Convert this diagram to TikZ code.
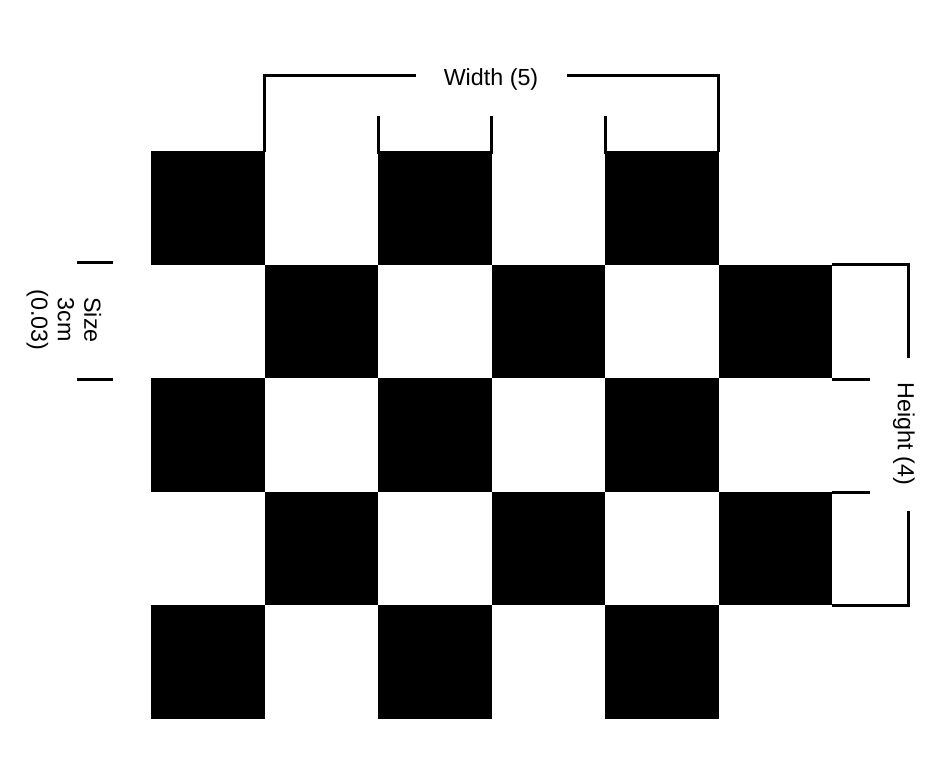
\documentclass[tikz,border=0pt]{standalone}
\usepackage{fontspec}
\setmainfont{Liberation Sans}
\begin{document}
\begin{tikzpicture}[x=1pt,y=-1pt,
  bracket/.style={line width=3pt},
  sq/.style={fill=black},
  lbl/.style={inner sep=0pt,font=\fontsize{23.3}{26.5}\selectfont}]
\useasboundingbox[fill=white] (0,0) rectangle (945,756);
% squares
\foreach \r in {0,...,4}{
  \foreach \c in {0,...,5}{
    \pgfmathtruncatemacro{\p}{mod(\r+\c,2)}
    \ifnum\p=0
      \fill[sq] ({151+113.5*\c},{151+113.5*\r}) rectangle ++(113.5,113.5);
    \fi
  }
}
% width bracket
\node[lbl] (w) at (491,79) {Width (5)};
\coordinate (wl) at (416,75);
\coordinate (wr) at (567,75);
\draw[bracket] (wl) -- (264,75) -- (264,152);
\draw[bracket] (wr) -- (718,75) -- (718,152);
\draw[bracket] (378,116) -- (378,152) -- (491,152) -- (491,116);
\draw[bracket] (605,116) -- (605,152) -- (718,152);
% size bracket
\draw[bracket] (77,262) -- (113,262);
\draw[bracket] (77,379) -- (113,379);
\node[lbl,rotate=-90,align=center] (s) at (64,320) {Size\\3cm\\(0.03)};
% height bracket
\node[lbl,rotate=-90] (h) at (904,434) {Height (4)};
\draw[bracket] (832,264) -- (908,264) -- (908,358);
\draw[bracket] (832,379) -- (870,379);
\draw[bracket] (832,492) -- (870,492);
\draw[bracket] (908,511) -- (908,605) -- (832,605);
\end{tikzpicture}
\end{document}
